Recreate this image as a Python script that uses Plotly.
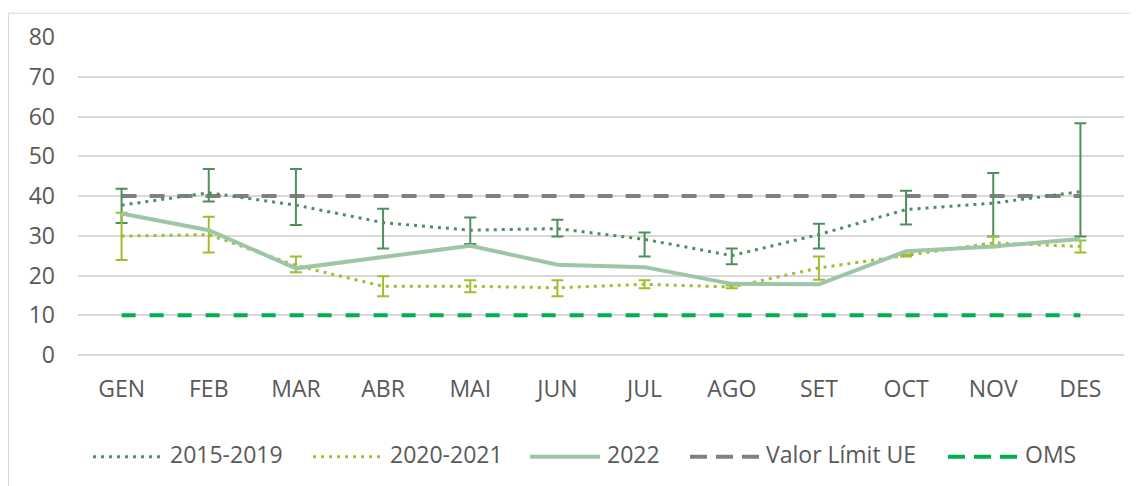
import plotly.graph_objects as go

months = ["GEN", "FEB", "MAR", "ABR", "MAI", "JUN", "JUL", "AGO", "SET", "OCT", "NOV", "DES"]

s1519 = [37.7, 40.8, 37.7, 33.3, 31.4, 31.8, 29.1, 25.0, 30.3, 36.6, 38.2, 41.1]
s1519_hi = [41.8, 46.8, 46.8, 36.8, 34.6, 34.0, 30.8, 26.8, 33.0, 41.3, 45.8, 58.3]
s1519_lo = [33.2, 38.6, 32.7, 26.8, 27.9, 29.8, 24.8, 22.8, 26.8, 32.8, 29.8, 29.8]

s2021 = [29.9, 30.3, 22.5, 17.3, 17.3, 16.9, 17.8, 17.1, 21.9, 25.0, 28.2, 27.3]
s2021_hi = [35.8, 34.8, 24.8, 19.8, 18.8, 18.8, 18.8, 17.5, 24.8, 25.3, 29.9, 28.8]
s2021_lo = [23.9, 25.8, 20.8, 14.8, 15.8, 14.8, 16.8, 16.8, 18.9, 24.8, 27.1, 25.8]

s2022 = [35.6, 31.4, 21.8, 24.7, 27.5, 22.7, 22.1, 17.9, 17.8, 26.1, 27.3, 29.2]

limit_ue = [40] * 12
oms = [10] * 12

series_names = ["2015-2019", "2020-2021", "2022", "Valor Límit UE", "OMS"]

c_dark = "#4f8f5f"
c_yg = "#9dbf2e"
c_2022 = "#9cc6a5"
c_gray = "#808080"
c_oms = "#00b050"
c_text = "#595959"

styles = {
    "2015-2019": dict(color=c_dark, width=3, dash="3px,5px"),
    "2020-2021": dict(color=c_yg, width=3, dash="3px,5px"),
    "2022": dict(color=c_2022, width=4),
    "Valor Límit UE": dict(color=c_gray, width=4, dash="15px,13px"),
    "OMS": dict(color=c_oms, width=4, dash="14px,14px"),
}

def err(vals, hi, lo):
    return dict(type="data", symmetric=False,
                array=[h - v for h, v in zip(hi, vals)],
                arrayminus=[v - l for v, l in zip(vals, lo)])

fig = go.Figure()
fig.add_trace(go.Scatter(x=months, y=limit_ue, name="Valor Límit UE", mode="lines",
                         line=styles["Valor Límit UE"]))
fig.add_trace(go.Scatter(x=months, y=oms, name="OMS", mode="lines", line=styles["OMS"]))
fig.add_trace(go.Scatter(x=months, y=s1519, name="2015-2019", mode="lines",
                         line=styles["2015-2019"],
                         error_y=dict(**err(s1519, s1519_hi, s1519_lo), color=c_dark, thickness=2, width=6)))
fig.add_trace(go.Scatter(x=months, y=s2021, name="2020-2021", mode="lines",
                         line=styles["2020-2021"],
                         error_y=dict(**err(s2021, s2021_hi, s2021_lo), color=c_yg, thickness=2, width=6)))
fig.add_trace(go.Scatter(x=months, y=s2022, name="2022", mode="lines", line=styles["2022"]))

# page body has an 8px margin: figure is sized/offset to compensate
W, H = 1130, 478
L, T = 70, 27
PW, PH = 1046, 320

def px_x(p):  # page pixel x -> paper x
    return (p - 8 - L) / PW

def px_y(p):  # page pixel y -> paper y
    return (T + PH - (p - 8)) / PH

# Excel-style legend (long samples), built from the series names/styles
leg_samples = [(93, 160), (313, 380), (530, 600), (690, 760), (948, 1018)]
leg_text_x = [168, 388, 605, 764, 1023]
shapes = [dict(type="rect", xref="paper", yref="paper",
               x0=px_x(8.5), x1=1.2, y0=-0.6, y1=px_y(11),
               line=dict(color="#d9d9d9", width=1), fillcolor="rgba(0,0,0,0)", layer="below")]
annotations = []
for name, (a, b), tx in zip(series_names, leg_samples, leg_text_x):
    st = styles[name]
    dash = st.get("dash", "solid")
    if name in ("Valor Límit UE", "OMS"):
        dash = "17px,9px"
    shapes.append(dict(type="line", xref="paper", yref="paper",
                       x0=px_x(a), x1=px_x(b), y0=px_y(457.5), y1=px_y(457.5),
                       line=dict(color=st["color"], width=st["width"], dash=dash)))
    annotations.append(dict(text=name, xref="paper", yref="paper", x=px_x(tx), y=px_y(455),
                            xanchor="left", yanchor="middle", showarrow=False,
                            font=dict(family="Open Sans", size=23, color=c_text)))

fig.update_layout(
    width=W, height=H,
    margin=dict(l=L, r=W - L - PW, t=T, b=H - T - PH),
    paper_bgcolor="white", plot_bgcolor="white",
    font=dict(family="Open Sans", size=23, color=c_text),
    showlegend=False,
    xaxis=dict(showgrid=False, showline=False, ticks="", tickfont=dict(size=23),
               range=[-0.5, 11.5], ticklabelstandoff=18),
    yaxis=dict(range=[0, 80], dtick=10, showgrid=True, gridcolor="#d9d9d9", gridwidth=1.5,
               zeroline=True, zerolinecolor="#d9d9d9", zerolinewidth=1.5,
               showline=False, ticks="", tickfont=dict(size=23), ticklabelstandoff=22),
    shapes=shapes,
    annotations=annotations,
)

fig.write_html("out.html")
